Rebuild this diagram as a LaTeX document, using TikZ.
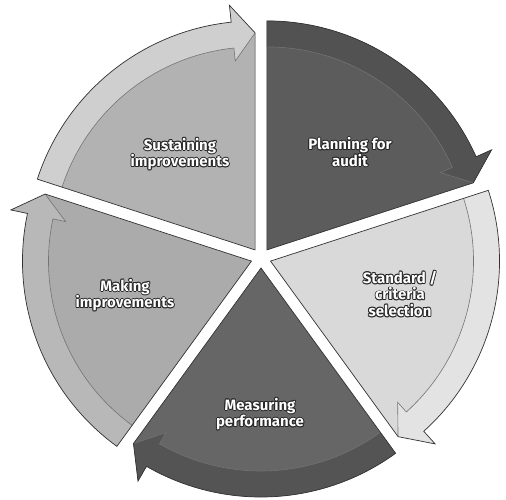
\documentclass[tikz,border=0pt]{standalone}
\usepackage{fontspec}
\setmainfont{Fira Sans}
\begin{document}
\begin{tikzpicture}[x=1pt,y=1pt,
  edge/.style={draw=black!80, line width=0.7pt, line join=miter},
  bandline/.style={draw=black!55, line width=0.6pt},
  lbl/.style={font=\fontsize{15}{16.5}\selectfont\bfseries, align=center, inner sep=0pt}]
\useasboundingbox (0,0) rectangle (506,499);
\coordinate (C) at (261,241);
\newcommand\mysector[5]{%
 \pgfmathsetmacro\midang{(#1+#2)/2}%
 \pgfmathsetmacro\nb{#2+6}%
 \begin{scope}[shift={(C)}, shift={(\midang:10)}]
  \coordinate (#5) at (0,0);
  \fill[#3] (0,0) -- (#1:229) arc[start angle=#1, end angle=\nb, radius=229] -- (\nb:246) -- (#2:217) -- cycle;
  \fill[#4] (#1:203) arc[start angle=#1, end angle=\nb, radius=203] -- (\nb:190) -- (#2:217) -- (\nb:246) -- (\nb:229) arc[start angle=\nb, end angle=#1, radius=229] -- cycle;
  \draw[bandline] (#1:203) arc[start angle=#1, end angle=\nb, radius=203] -- (\nb:190) -- (#2:217);
  \draw[edge] (0,0) -- (#1:229) arc[start angle=#1, end angle=\nb, radius=229] -- (\nb:246) -- (#2:217) -- cycle;
 \end{scope}}
\newcommand\olabel[3]{%
 \foreach \dx/\dy in {-0.9/0,0.9/0,0/0.9,0/-0.9,-0.65/-0.65,0.65/0.65,-0.65/0.65,0.65/-0.65}{%
   \node[lbl, text=black!85, xshift=\dx pt, yshift=\dy pt] at (#2) {#3};}
 \node[lbl, text=white] (#1) at (#2) {#3};}
\mysector{90}{18}{black!64}{black!68}{splan}
\mysector{18}{-54}{black!15}{black!11}{sstand}
\mysector{-54}{-126}{black!60}{black!67}{smeas}
\mysector{-126}{-198}{black!33}{black!28}{smake}
\mysector{162}{90}{black!30}{black!19}{ssust}
\olabel{tplan}{350,347}{Planning for\\audit}
\olabel{tstand}{400,205}{Standard /\\criteria\\selection}
\olabel{tmeas}{260,85}{Measuring\\performance}
\olabel{tmake}{125,204}{Making\\improvements}
\olabel{tsust}{180,345}{Sustaining\\improvements}
\end{tikzpicture}
\end{document}
